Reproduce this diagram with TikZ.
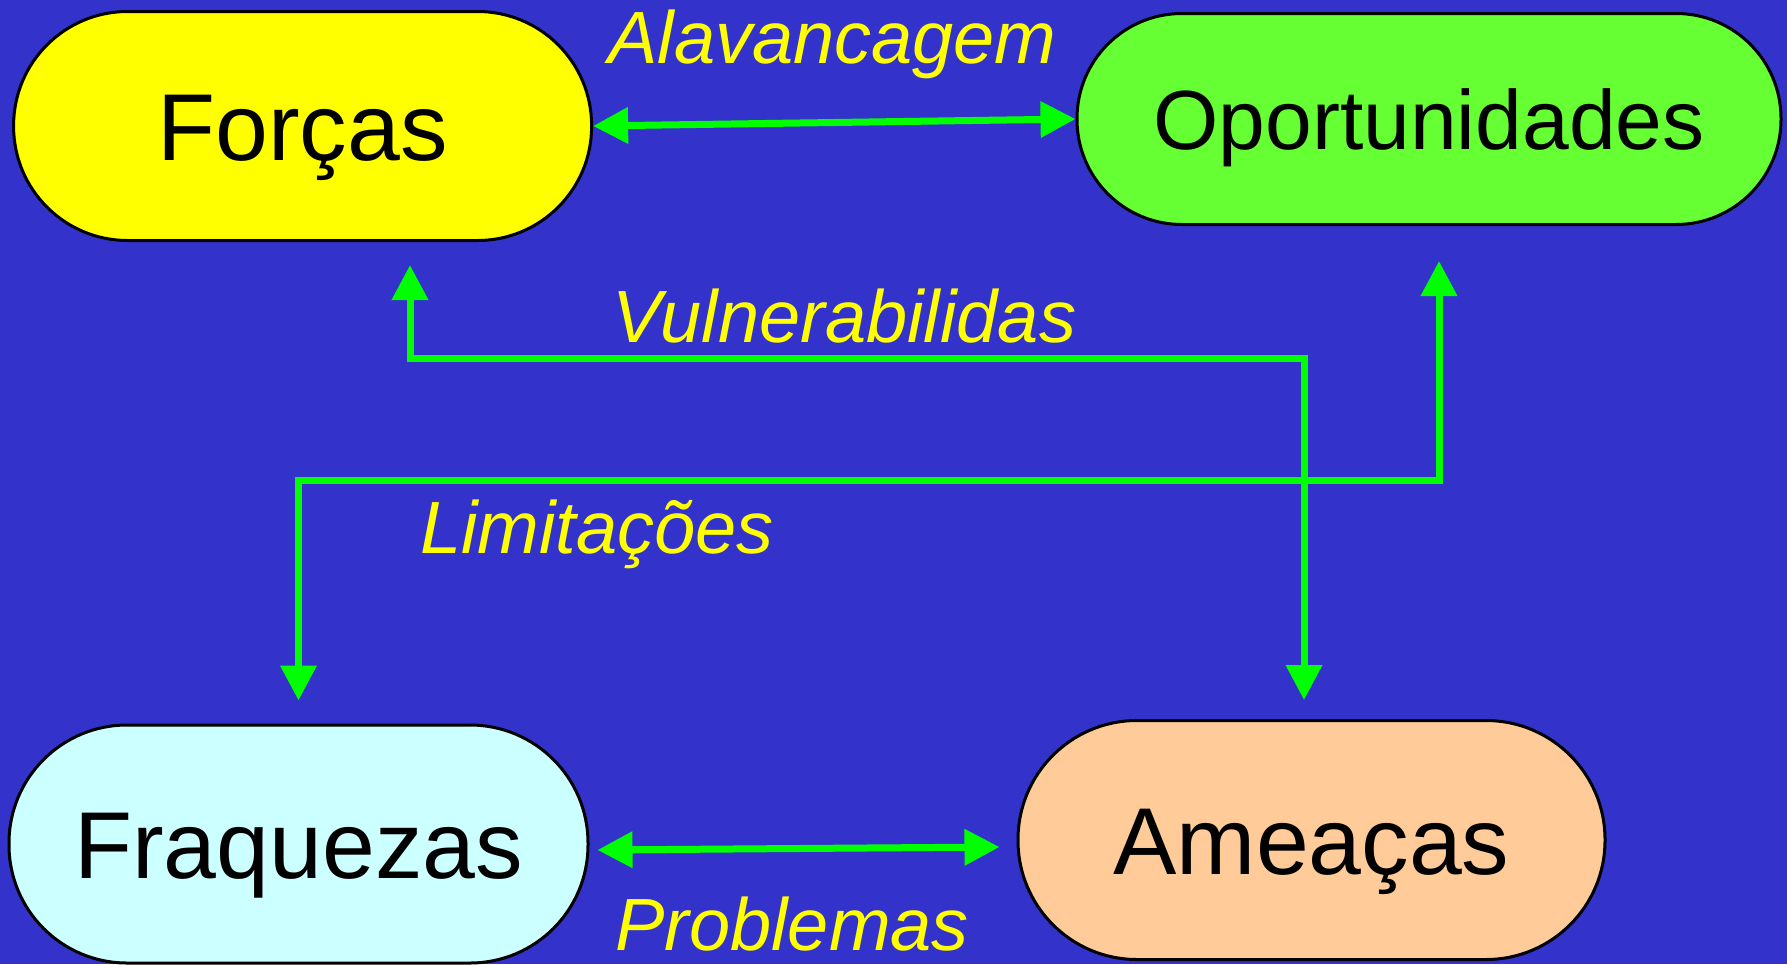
\documentclass[tikz,border=0pt]{standalone}
\usepackage{fontspec}
\setmainfont{Liberation Sans}
\usetikzlibrary{arrows.meta,calc}
\definecolor{bgblue}{HTML}{3333CC}
\definecolor{cForca}{HTML}{FFFF00}
\definecolor{cOport}{HTML}{66FF33}
\definecolor{cFraq}{HTML}{CCFFFF}
\definecolor{cAmea}{HTML}{FFCC99}
\definecolor{arrgreen}{HTML}{00FF00}
\definecolor{labyellow}{HTML}{FFFF00}
\begin{document}
\begin{tikzpicture}[x=1pt,y=-1pt,
  box/.style={draw=black,line width=3pt,rectangle,inner sep=0pt,
    font=\fontsize{95}{100}\selectfont,text height=68pt,text depth=0pt},
  lab/.style={text=labyellow,font=\fontsize{74}{80}\selectfont\itshape,inner sep=0pt,anchor=base},
  arr/.style={draw=arrgreen,line width=7pt,
    {Triangle[length=35pt,width=35pt]}-{Triangle[length=35pt,width=35pt]}}]
\useasboundingbox (0,0) rectangle (1787,964);
\fill[bgblue] (0,0) rectangle (1787,964);

\node[box,fill=cForca,minimum width=578pt,minimum height=229pt,rounded corners=114pt] (F) at (302.6,126) {Forças};
\node[box,fill=cOport,minimum width=704pt,minimum height=211pt,rounded corners=105pt,
  font=\fontsize{84}{90}\selectfont,text height=60pt] (O) at (1429,119) {Oportunidades};
\node[box,fill=cFraq,minimum width=579pt,minimum height=238pt,rounded corners=118pt] (Fq) at (298.5,844) {Fraquezas};
\node[box,fill=cAmea,minimum width=587pt,minimum height=239pt,rounded corners=119pt] (A) at (1311.5,840) {Ameaças};

\coordinate (v1) at (1304,358);
\coordinate (v2) at (410,358);
\coordinate (l1) at (1439,480);
\coordinate (l2) at (298.5,480);

\draw[arr] (F.east) -- (O.west);
\draw[arr] ($(Fq.east)+(8,6)$) -- ($(A.west)+(-17,7)$);
\draw[arr] ($(A.north)+(-7.5,-19)$) -- (v1) -- (v2) -- ($(F.south)+(107.4,23)$);
\draw[arr] ($(O.south)+(10,35)$) -- (l1) -- (l2) -- ($(Fq.north)+(0,-23)$);

\node[lab] (lAlav) at (832.5,63) {Alavancagem};
\node[lab] (lVuln) at (844.5,342) {Vulnerabilidas};
\node[lab] (lLimi) at (597,553) {Limitações};
\node[lab] (lProb) at (792,950) {Problemas};
\end{tikzpicture}
\end{document}
